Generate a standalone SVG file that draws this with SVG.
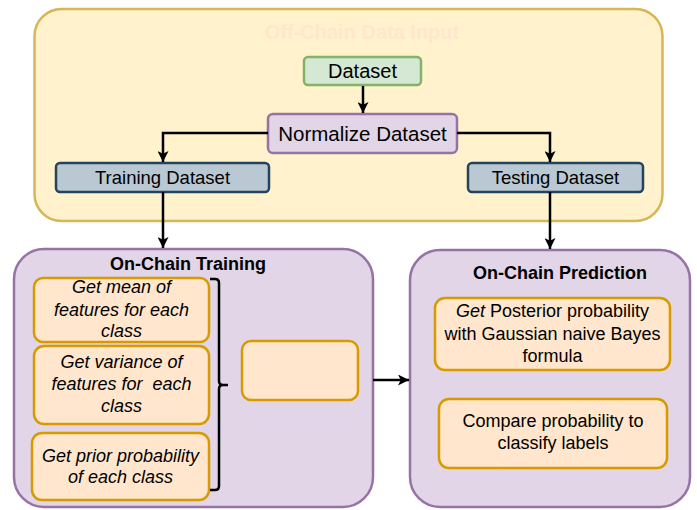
<svg xmlns="http://www.w3.org/2000/svg" width="697" height="510" viewBox="0 0 697 510">
<defs>
<style>
text{font-family:"Liberation Sans",Arial,sans-serif;fill:#000;text-anchor:middle}
.title{font-weight:bold;font-size:18px}
.t18{font-size:18px}
.it{font-style:italic;font-size:18px}
.orange{fill:#ffe6cc;stroke:#d79b00;stroke-width:2.5}
.purple{fill:#e1d5e7;stroke:#9673a6;stroke-width:2.5}
.blue{fill:#bac8d3;stroke:#23445d;stroke-width:2.5}
.green{fill:#d5e8d4;stroke:#82b366;stroke-width:2.5}
.conn{fill:none;stroke:#000;stroke-width:2.5}
</style>
<marker id="arr" viewBox="0 0 10 10" refX="10" refY="5" markerWidth="11" markerHeight="11" markerUnits="userSpaceOnUse" orient="auto">
<path d="M0,0 L10,5 L0,10 L2.5,5 z" fill="#000"/>
</marker>
</defs>

<g id="offchain">
<rect x="34.5" y="9" width="628" height="212" rx="27" fill="#fff2cc" stroke="#d6b656" stroke-width="2.5"/>
<text x="362" y="39" style="font-weight:bold;font-size:20px;fill:#ffe6cc">Off-Chain Data Input</text>
</g>

<g id="dataset">
<rect class="green" x="304" y="57" width="117" height="28" rx="4"/>
<text class="t18" x="362.5" y="78" style="font-size:20px">Dataset</text>
</g>

<g id="normalize">
<rect class="purple" x="268" y="114" width="189" height="39" rx="5"/>
<text x="362.5" y="141" style="font-size:20.5px">Normalize Dataset</text>
</g>

<g id="training-dataset">
<rect class="blue" x="56" y="163" width="213" height="29" rx="4"/>
<text x="162.5" y="184" style="font-size:18.5px">Training Dataset</text>
</g>

<g id="testing-dataset">
<rect class="blue" x="468" y="163" width="175" height="29" rx="4"/>
<text x="555.5" y="184" style="font-size:18.5px">Testing Dataset</text>
</g>

<g id="onchain-training">
<rect class="purple" x="14" y="249" width="359" height="258" rx="30"/>
<text class="title" x="188" y="270">On-Chain Training</text>
</g>

<g id="mean">
<rect class="orange" x="34" y="278" width="175" height="64" rx="9"/>
<text class="it" x="121.5" y="293">Get mean of</text>
<text class="it" x="121.5" y="316">features for each</text>
<text class="it" x="121.5" y="337">class</text>
</g>

<g id="variance">
<rect class="orange" x="34" y="346" width="175" height="78" rx="10"/>
<text class="it" x="121.5" y="368">Get variance of</text>
<text class="it" x="121.5" y="390" xml:space="preserve">features for  each</text>
<text class="it" x="121.5" y="412">class</text>
</g>

<g id="prior">
<rect class="orange" x="32" y="433" width="177" height="67" rx="10"/>
<text class="it" x="120.5" y="462">Get prior probability</text>
<text class="it" x="120.5" y="483">of each class</text>
</g>

<g id="brace">
<path class="conn" d="M210,279 L215,279 Q219,279 219,283 L219,381 Q219,385 223,385 L228,385 M223,385 Q219,385 219,389 L219,486 Q219,490 215,490 L210,490"/>
</g>

<g id="empty-box">
<rect class="orange" x="242" y="341" width="116" height="59" rx="9"/>
</g>

<g id="onchain-prediction">
<rect class="purple" x="410" y="250" width="280" height="257" rx="30"/>
<text class="title" x="560" y="279">On-Chain Prediction</text>
</g>

<g id="posterior">
<rect class="orange" x="435" y="298" width="235" height="72" rx="10"/>
<text class="t18" x="552.5" y="317"><tspan font-style="italic">Get</tspan> Posterior probability</text>
<text class="t18" x="552.5" y="340">with Gaussian naive Bayes</text>
<text class="t18" x="552.5" y="362">formula</text>
</g>

<g id="compare">
<rect class="orange" x="439" y="399" width="228" height="69" rx="10"/>
<text class="t18" x="553" y="427">Compare probability to</text>
<text class="t18" x="553" y="449">classify labels</text>
</g>

<g id="connectors">
<path class="conn" marker-end="url(#arr)" d="M363,86 L363,113"/>
<path class="conn" marker-end="url(#arr)" d="M268,133 L163,133 L163,162"/>
<path class="conn" marker-end="url(#arr)" d="M457,133 L550,133 L550,162"/>
<path class="conn" marker-end="url(#arr)" d="M163,192 L163,248"/>
<path class="conn" marker-end="url(#arr)" d="M550,192 L550,249"/>
<path class="conn" marker-end="url(#arr)" d="M373,380 L409,380"/>
</g>
</svg>
